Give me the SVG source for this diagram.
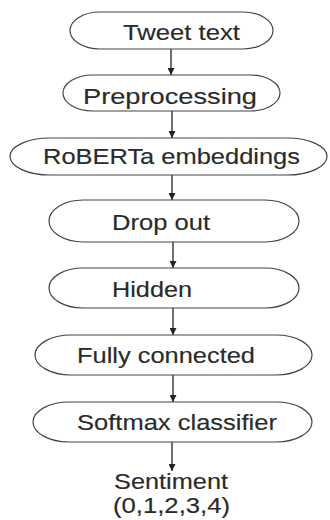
<svg xmlns="http://www.w3.org/2000/svg" width="330" height="520" viewBox="0 0 330 520">
<style>
.n{fill:#fff;stroke:#444;stroke-width:1.2}
.t{font-family:"Liberation Sans",Arial,sans-serif;font-size:22px;fill:#2a2a2a;stroke:#2a2a2a;stroke-width:0.15}
.c{stroke:#222;stroke-width:1.3;fill:none}
</style>
<defs>
<marker id="ah" viewBox="0 0 10 10" refX="10" refY="5" markerWidth="7" markerHeight="7" markerUnits="userSpaceOnUse" orient="auto">
<path d="M0,0 L10,5 L0,10 z" fill="#222"/>
</marker>
</defs>
<rect width="330" height="520" fill="#fff"/>
<g id="connectors">
<line class="c" x1="171" y1="49" x2="171" y2="75" marker-end="url(#ah)"/>
<line class="c" x1="172" y1="111" x2="172" y2="138" marker-end="url(#ah)"/>
<line class="c" x1="172" y1="175" x2="172" y2="200" marker-end="url(#ah)"/>
<line class="c" x1="173" y1="242" x2="173" y2="268" marker-end="url(#ah)"/>
<line class="c" x1="173" y1="308" x2="173" y2="335" marker-end="url(#ah)"/>
<line class="c" x1="173" y1="375" x2="173" y2="402" marker-end="url(#ah)"/>
<line class="c" x1="172" y1="442" x2="172" y2="471" marker-end="url(#ah)"/>
</g>
<g id="tweet">
<rect class="n" x="70" y="12" width="203" height="37" rx="30" ry="18.5"/>
<text class="t" x="123" y="40" textLength="117" lengthAdjust="spacingAndGlyphs">Tweet text</text>
</g>
<g id="preprocessing">
<rect class="n" x="63" y="75" width="217" height="36" rx="30" ry="18"/>
<text class="t" x="83" y="104" textLength="174" lengthAdjust="spacingAndGlyphs">Preprocessing</text>
</g>
<g id="roberta">
<rect class="n" x="10" y="138" width="317" height="37" rx="40" ry="18.5"/>
<text class="t" x="43" y="164" textLength="257" lengthAdjust="spacingAndGlyphs">RoBERTa embeddings</text>
</g>
<g id="dropout">
<rect class="n" x="49" y="200" width="250" height="42" rx="34" ry="21"/>
<text class="t" x="112" y="230" textLength="98" lengthAdjust="spacingAndGlyphs">Drop out</text>
</g>
<g id="hidden">
<rect class="n" x="49" y="268" width="250" height="40" rx="34" ry="20"/>
<text class="t" x="112" y="297" textLength="80" lengthAdjust="spacingAndGlyphs">Hidden</text>
</g>
<g id="fully">
<rect class="n" x="35" y="335" width="277" height="40" rx="36" ry="20"/>
<text class="t" x="77" y="363" textLength="178" lengthAdjust="spacingAndGlyphs">Fully connected</text>
</g>
<g id="softmax">
<rect class="n" x="33" y="402" width="279" height="40" rx="36" ry="20"/>
<text class="t" x="77" y="430" textLength="200" lengthAdjust="spacingAndGlyphs">Softmax classifier</text>
</g>
<g id="sentiment">
<text class="t" x="114" y="489" textLength="114" lengthAdjust="spacingAndGlyphs">Sentiment</text>
<text class="t" x="113" y="513" textLength="117" lengthAdjust="spacingAndGlyphs">(0,1,2,3,4)</text>
</g>
</svg>
